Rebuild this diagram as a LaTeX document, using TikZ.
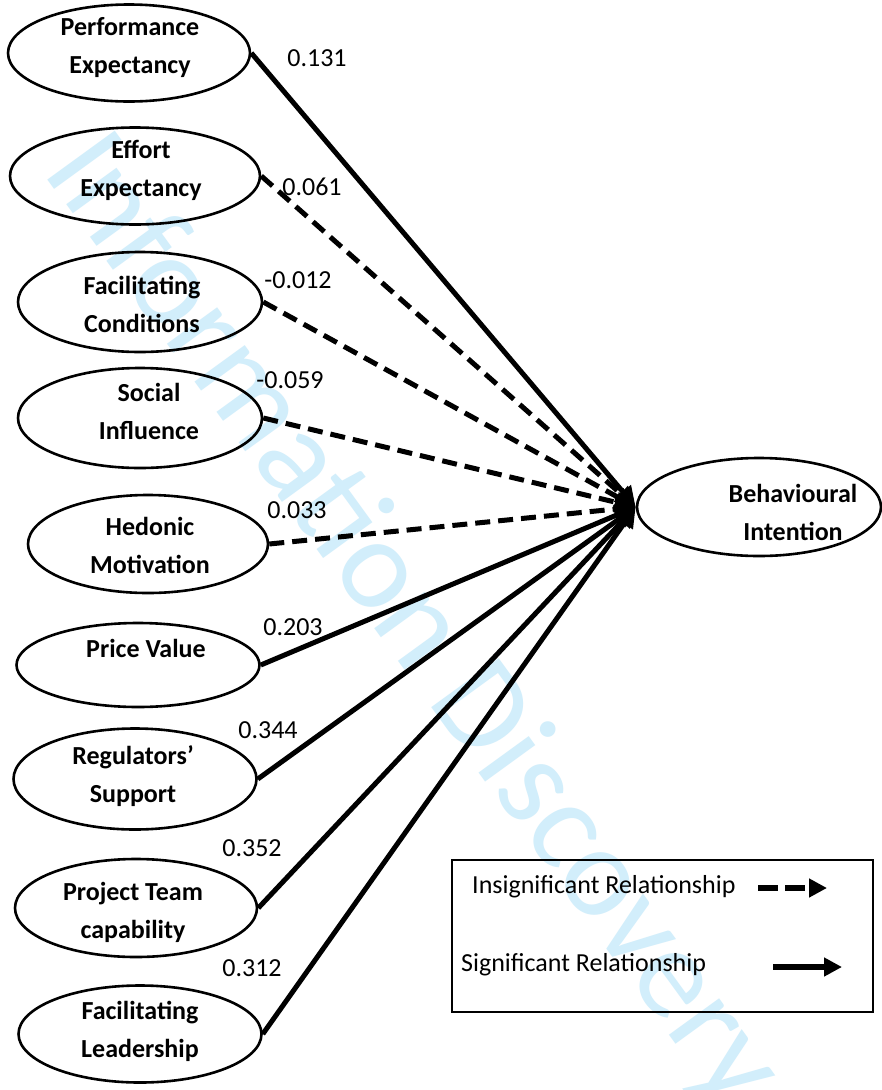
\documentclass[tikz,border=0pt]{standalone}
\usepackage{fontspec}
\setmainfont{Carlito}
\usetikzlibrary{arrows.meta,shapes.geometric}
\definecolor{wm}{RGB}{210,238,251}
\begin{document}
\begin{tikzpicture}[x=1pt,y=-1pt,
  construct/.style={draw, ellipse, line width=2.6pt, inner sep=0pt, minimum width=242pt, minimum height=97pt},
  lbl/.style={font=\fontsize{26}{38}\selectfont\bfseries, align=center, inner sep=0pt},
  coef/.style={font=\fontsize{26}{30}\selectfont, inner sep=0pt},
  legtext/.style={font=\fontsize{26}{30}\selectfont, inner sep=0pt, anchor=west},
  sig/.style={line width=5pt, -{Triangle[length=20pt,width=20pt]}},
  insig/.style={sig, dash pattern=on 15pt off 8pt},
  legsig/.style={line width=6pt, -{Triangle[length=18pt,width=18pt]}},
  leginsig/.style={legsig, dash pattern=on 20pt off 7pt},
]
\useasboundingbox (0,0) rectangle (882,1090);
\clip (0,0) rectangle (882,1090);
\fill[white] (0,0) rectangle (882,1090);
% watermark
\node[wm, font=\fontsize{130}{130}\selectfont, rotate=-54, inner sep=0pt] (wmark) at (412,622) {Information Discovery};
% constructs
\node[construct] (pe) at (129,53) {};
\node[construct, minimum width=250pt] (ee) at (135,176) {};
\node[construct, minimum width=244pt, minimum height=100pt] (fc) at (140,302) {};
\node[construct, minimum width=244pt, minimum height=100pt] (si) at (140,418) {};
\node[construct, minimum width=240pt, minimum height=98pt] (hm) at (148,544) {};
\node[construct, minimum width=243pt, minimum height=84pt] (pv) at (138,665) {};
\node[construct, minimum width=243pt, minimum height=101pt] (rs) at (135,779) {};
\node[construct, minimum height=98pt] (ptc) at (136,908) {};
\node[construct, minimum width=243pt] (fl) at (140,1034) {};
\node[construct, minimum width=244pt, minimum height=98pt] (bi) at (759,507) {};
% construct labels
\node[lbl] (pet) at (130,48) {Performance\\Expectancy};
\node[lbl] (eet) at (141,170) {Effort\\Expectancy};
\node[lbl] (fct) at (142,304) {Facilitating\\Conditions};
\node[lbl] (sit) at (149,411) {Social\\Influence};
\node[lbl] (hmt) at (150,545) {Hedonic\\Motivation};
\node[lbl] (pvt) at (146,648) {Price Value};
\node[lbl] (rst) at (133,776) {Regulators’\\Support};
\node[lbl] (ptct) at (133,912) {Project Team\\capability};
\node[lbl] (flt) at (140,1031) {Facilitating\\Leadership};
\node[lbl] (bit) at (793,512) {Behavioural\\Intention};
% paths
\draw[sig] (pe.east) -- (bi.west);
\draw[insig] (ee.east) -- (bi.west);
\draw[insig] (fc.east) -- (bi.west);
\draw[insig] (si.east) -- (bi.west);
\draw[insig] (hm.east) -- (bi.west);
\draw[sig] (pv.east) -- (bi.west);
\draw[sig] (rs.east) -- (bi.west);
\draw[sig] (ptc.east) -- (bi.west);
\draw[sig] (fl.east) -- (bi.west);
% coefficients
\node[coef] (c1) at (317,58) {0.131};
\node[coef] (c2) at (312,187) {0.061};
\node[coef] (c3) at (298,280) {-0.012};
\node[coef] (c4) at (290,380) {-0.059};
\node[coef] (c5) at (297,510) {0.033};
\node[coef] (c6) at (293,627) {0.203};
\node[coef] (c7) at (268,730) {0.344};
\node[coef] (c8) at (252,848) {0.352};
\node[coef] (c9) at (252,968) {0.312};
% legend
\node[draw, line width=2.2pt, minimum width=421pt, minimum height=152pt, inner sep=0pt] (legend) at (662.5,936) {};
\node[legtext] (lt1) at (472,887) {Insignificant Relationship};
\node[legtext] (lt2) at (461,965) {Significant Relationship};
\coordinate (d1) at (758,888);
\coordinate (d2) at (827,888);
\coordinate (s1) at (773,967);
\coordinate (s2) at (842,967);
\draw[leginsig] (d1) -- (d2);
\draw[legsig] (s1) -- (s2);
\end{tikzpicture}
\end{document}
